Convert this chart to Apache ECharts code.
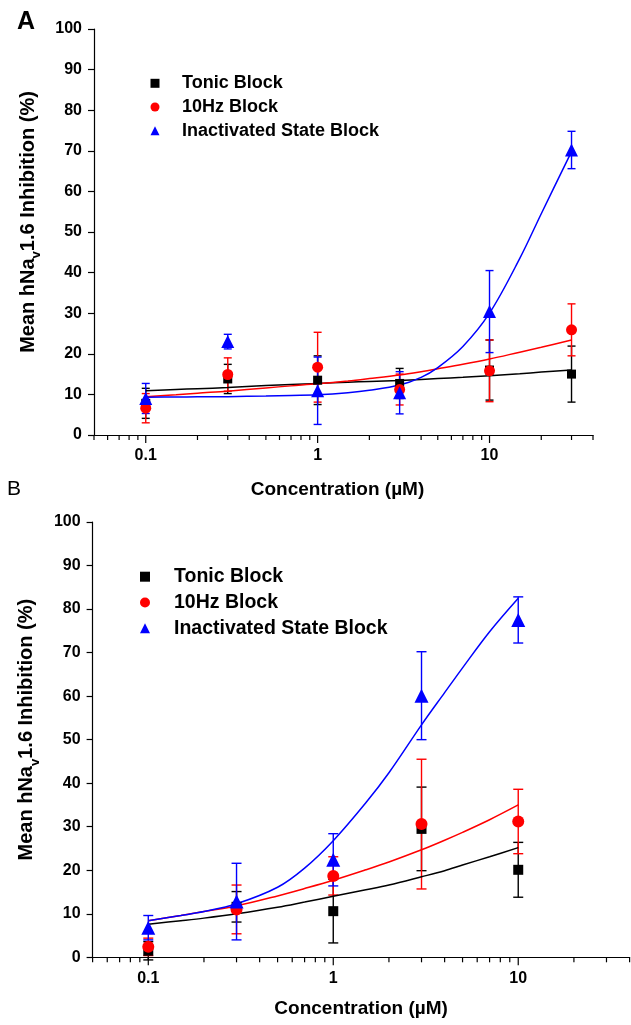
<!DOCTYPE html>
<html>
<head>
<meta charset="utf-8">
<script src="https://cdn.jsdelivr.net/npm/echarts@6/dist/echarts.min.js"></script>
<style>
html,body{margin:0;padding:0;background:#fff;}
#main{width:631px;height:1025px;}
</style>
</head>
<body>
<div id="main"></div>
<script>
// ---------- data ----------
const seriesNames = ['Tonic Block', '10Hz Block', 'Inactivated State Block'];
const colors = ['#000000', '#ff0000', '#0000ff'];
const symbols = ['rect', 'circle', 'triangle'];

// Panel A
const concA = [0.1, 0.3, 1, 3, 10, 30];
const tonicA = [7.8, 13.8, 13.5, 12.7, 16.0, 15.0];
const tonicAErr = [3.7, 3.6, 6.0, 3.7, 7.4, 6.9];
const hz10A = [6.6, 14.9, 16.7, 11.2, 15.8, 25.9];
const hz10AErr = [3.6, 4.1, 8.6, 3.8, 7.6, 6.4];
const inactA = [9.0, 23.0, 10.9, 10.4, 30.4, 70.2];
const inactAErr = [3.7, 1.8, 8.3, 5.2, 10.1, 4.6];

const fitXA = [0.1, 0.15, 0.2, 0.3, 0.5, 0.7, 1, 1.5, 2, 3, 4, 5, 7, 10, 15, 20, 30];
const fitTonicA = [10.9, 11.2, 11.4, 11.7, 12.2, 12.45, 12.7, 13.0, 13.2, 13.45, 13.7, 13.9, 14.2, 14.6, 15.1, 15.5, 16.0];
const fitHz10A = [9.4, 9.9, 10.3, 10.8, 11.6, 12.1, 12.6, 13.3, 13.9, 14.8, 15.6, 16.3, 17.4, 18.7, 20.4, 21.6, 23.4];
const fitInactA = [9.3, 9.35, 9.4, 9.45, 9.6, 9.75, 9.9, 10.4, 11.0, 12.3, 14.2, 16.6, 21.8, 30.0, 43.5, 54.5, 69.8];

// Panel B
const concB = [0.1, 0.3, 1, 3, 10];
const tonicB = [1.5, 11.6, 10.6, 29.5, 20.1];
const tonicBErr = [2.1, 3.5, 7.3, 9.6, 6.3];
const hz10B = [2.4, 11.0, 18.7, 30.6, 31.2];
const hz10BErr = [2.0, 5.6, 4.4, 14.9, 7.4];
const inactB = [6.8, 12.8, 22.4, 60.1, 77.5];
const inactBErr = [2.8, 8.8, 6.0, 10.1, 5.3];

const fitXB = [0.1, 0.15, 0.2, 0.3, 0.5, 0.7, 1, 1.5, 2, 3, 4, 5, 7, 10];
const fitTonicB = [7.6, 8.4, 9.0, 10.0, 11.5, 12.7, 14.0, 15.5, 16.6, 18.5, 19.9, 21.2, 23.1, 25.2];
const fitHz10B = [8.4, 9.6, 10.5, 11.8, 14.1, 15.8, 17.7, 20.1, 21.9, 24.7, 26.9, 28.7, 31.6, 35.0];
const fitInactB = [8.4, 9.6, 10.5, 12.3, 16.1, 20.5, 26.8, 35.5, 42.4, 53.4, 60.8, 66.5, 74.8, 82.5];

// axis ticks / labels
const xMin = 0.05, xMax = 40;
const xMajorTicks = [0.1, 1, 10];
const xMinorTicks = [0.05, 0.06, 0.07, 0.08, 0.09, 0.2, 0.3, 0.4, 0.5, 0.6, 0.7, 0.8, 0.9,
                     2, 3, 4, 5, 6, 7, 8, 9, 20, 30, 40];
const xTickLabels = ['0.1', '1', '10'];

// ---------- helpers ----------
const FONT = '"Liberation Sans", Arial, Helvetica, sans-serif';
const chart = echarts.init(document.getElementById('main'), null, {renderer: 'canvas'});

function zip(xs, ys) { return xs.map((x, i) => [x, ys[i]]); }
function zipErr(xs, ys, es) { return xs.map((x, i) => [x, ys[i], es[i]]); }

function errorSeries(idx, data, color, capHalf, name) {
  return {
    type: 'custom', name: name + ' err', xAxisIndex: idx, yAxisIndex: idx, z: 2, clip: false,
    silent: true,
    data: data,
    encode: {x: 0, y: 1},
    renderItem: function (params, api) {
      const x = api.value(0), y = api.value(1), e = api.value(2);
      const top = api.coord([x, y + e]);
      const bot = api.coord([x, y - e]);
      const st = {stroke: color, lineWidth: 1.4};
      return {
        type: 'group',
        children: [
          {type: 'line', shape: {x1: top[0], y1: top[1], x2: bot[0], y2: bot[1]}, style: st},
          {type: 'line', shape: {x1: top[0] - capHalf, y1: top[1], x2: top[0] + capHalf, y2: top[1]}, style: st},
          {type: 'line', shape: {x1: bot[0] - capHalf, y1: bot[1], x2: bot[0] + capHalf, y2: bot[1]}, style: st}
        ]
      };
    }
  };
}

function tickSeries(idx, values, len) {
  return {
    type: 'custom', xAxisIndex: idx, yAxisIndex: idx, z: 5, clip: false, silent: true,
    data: values.map(v => [v, 0]),
    encode: {x: 0, y: 1},
    renderItem: function (params, api) {
      const p = api.coord([api.value(0), 0]);
      return {type: 'line', shape: {x1: p[0], y1: p[1], x2: p[0], y2: p[1] + len},
              style: {stroke: '#000', lineWidth: 1.2}};
    }
  };
}

function scatterSeries(idx, name, data, color, symbol, size) {
  return {
    type: 'scatter', name: name, xAxisIndex: idx, yAxisIndex: idx, z: 4,
    data: data, symbol: symbol, symbolSize: size,
    itemStyle: {color: color, opacity: 1}
  };
}

function fitSeries(idx, name, data, color) {
  return {
    type: 'line', name: name, xAxisIndex: idx, yAxisIndex: idx, z: 3,
    data: data, smooth: 0.35, showSymbol: false, symbol: 'none',
    lineStyle: {color: color, width: 1.5}, silent: true
  };
}

function xAxisDef(idx, gap, pad) {
  return {
    type: 'log', logBase: 10, gridIndex: idx, min: xMin, max: xMax,
    name: 'Concentration (\u00b5M)', nameLocation: 'middle', nameGap: gap,
    nameTextStyle: {fontFamily: FONT, fontWeight: 'bold', fontSize: 19, color: '#000', padding: pad},
    axisLine: {show: true, lineStyle: {color: '#000', width: 1.2}},
    axisTick: {show: false},
    minorTick: {show: false},
    splitLine: {show: false},
    axisLabel: {
      show: true, margin: 13, showMinLabel: false, showMaxLabel: false,
      fontFamily: FONT, fontWeight: 'bold', fontSize: 16, color: '#000',
      formatter: function (v) {
        for (let i = 0; i < xMajorTicks.length; i++) {
          if (Math.abs(v - xMajorTicks[i]) / xMajorTicks[i] < 1e-6) return xTickLabels[i];
        }
        return '';
      }
    }
  };
}

function yAxisDef(idx) {
  return {
    type: 'value', gridIndex: idx, min: 0, max: 100, interval: 10,
    name: '{a|Mean hNa}{s|v}{a|1.6 Inhibition (%)}',
    nameLocation: 'middle', nameRotate: 90, nameGap: 51,
    nameTextStyle: {
      fontFamily: FONT, fontWeight: 'bold', fontSize: 20, color: '#000',
      padding: [0, 0, 0, 20],
      rich: {
        a: {fontFamily: FONT, fontWeight: 'bold', fontSize: 20, color: '#000', verticalAlign: 'bottom', padding: [0, 0, 5, 0]},
        s: {fontFamily: FONT, fontWeight: 'bold', fontSize: 13, color: '#000', verticalAlign: 'bottom'}
      }
    },
    axisLine: {show: true, lineStyle: {color: '#000', width: 1.2}},
    axisTick: {show: true, inside: false, length: 6, lineStyle: {color: '#000', width: 1.2}},
    splitLine: {show: false},
    axisLabel: {margin: 12, fontFamily: FONT, fontWeight: 'bold', fontSize: 16, color: '#000'}
  };
}

const series = [
  // Panel A
  fitSeries(0, 'fitA0', zip(fitXA, fitTonicA), colors[0]),
  fitSeries(0, 'fitA1', zip(fitXA, fitHz10A), colors[1]),
  fitSeries(0, 'fitA2', zip(fitXA, fitInactA), colors[2]),
  errorSeries(0, zipErr(concA, tonicA, tonicAErr), colors[0], 4, 'A0'),
  errorSeries(0, zipErr(concA, hz10A, hz10AErr), colors[1], 4, 'A1'),
  errorSeries(0, zipErr(concA, inactA, inactAErr), colors[2], 4, 'A2'),
  scatterSeries(0, seriesNames[0], zip(concA, tonicA), colors[0], 'rect', 9),
  scatterSeries(0, seriesNames[1], zip(concA, hz10A), colors[1], 'circle', 11),
  scatterSeries(0, seriesNames[2], zip(concA, inactA), colors[2], 'triangle', 13),
  tickSeries(0, xMajorTicks, 8),
  tickSeries(0, xMinorTicks, 5),
  // Panel B
  fitSeries(1, 'fitB0', zip(fitXB, fitTonicB), colors[0]),
  fitSeries(1, 'fitB1', zip(fitXB, fitHz10B), colors[1]),
  fitSeries(1, 'fitB2', zip(fitXB, fitInactB), colors[2]),
  errorSeries(1, zipErr(concB, tonicB, tonicBErr), colors[0], 5, 'B0'),
  errorSeries(1, zipErr(concB, hz10B, hz10BErr), colors[1], 5, 'B1'),
  errorSeries(1, zipErr(concB, inactB, inactBErr), colors[2], 5, 'B2'),
  scatterSeries(1, seriesNames[0], zip(concB, tonicB), colors[0], 'rect', 10),
  scatterSeries(1, seriesNames[1], zip(concB, hz10B), colors[1], 'circle', 12),
  scatterSeries(1, seriesNames[2], zip(concB, inactB), colors[2], 'triangle', 14),
  tickSeries(1, xMajorTicks, 8),
  tickSeries(1, xMinorTicks, 5)
];

function legendDef(left, top, fontSize, lh, gap, icon, pad) {
  return {
    orient: 'vertical', left: left, top: top, itemGap: gap, padding: 0,
    itemWidth: icon, itemHeight: icon, selectedMode: false,
    data: seriesNames.map((n, i) => ({name: n, icon: symbols[i]})),
    textStyle: {fontFamily: FONT, fontWeight: 'bold', fontSize: fontSize, color: '#000',
                lineHeight: lh, padding: [0, 0, 0, pad]}
  };
}

const option = {
  backgroundColor: '#ffffff',
  animation: false,
  grid: [
    {left: 94, top: 29, width: 499, height: 406},
    {left: 92.6, top: 522, width: 537, height: 435.3}
  ],
  xAxis: [xAxisDef(0, 45, [0, 12, 0, 0]), xAxisDef(1, 42, 0)],
  yAxis: [yAxisDef(0), yAxisDef(1)],
  legend: [legendDef(150.5, 74.3, 18, 18, 5.7, 9, 17.5), legendDef(140, 566.7, 19.5, 20, 5.8, 10, 19)],
  graphic: [
    {type: 'text', left: 17, top: 10, style: {text: 'A', fontFamily: FONT, fontWeight: 'bold', fontSize: 25, fill: '#000'}},
    {type: 'text', left: 7, top: 479, style: {text: 'B', fontFamily: FONT, fontWeight: 'normal', fontSize: 21, fill: '#000'}}
  ],
  series: series
};
chart.setOption(option);
</script>
</body>
</html>
